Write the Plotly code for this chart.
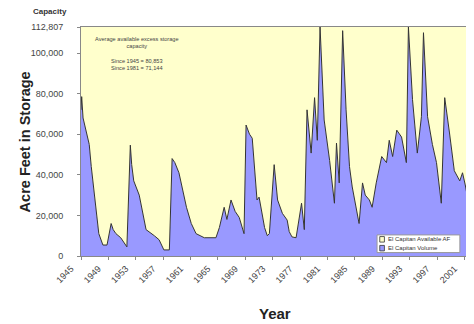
import plotly.graph_objects as go

years = [1945.0, 1945.1, 1945.3, 1945.6, 1945.9, 1946.2, 1946.5, 1946.9, 1947.3, 1947.6, 1948.2,
         1948.8, 1949.4, 1949.7, 1950.1, 1950.8, 1951.7, 1952.2, 1952.4, 1952.7, 1953.5, 1953.9,
         1954.2, 1954.5, 1955.7, 1956.4, 1957.1, 1957.9, 1958.3, 1958.7, 1959.3, 1960.4, 1961.1,
         1961.8, 1963.0, 1964.0, 1964.7, 1965.2, 1965.9, 1966.3, 1966.9, 1967.5, 1968.1,
         1968.8, 1969.1, 1969.6, 1970.0, 1970.7, 1971.0, 1971.5, 1971.8, 1972.2, 1972.5,
         1973.2, 1973.7, 1974.4, 1975.1, 1975.4, 1975.8, 1976.4, 1977.2, 1977.6, 1978.0,
         1978.6, 1979.1, 1979.5, 1979.9, 1980.5, 1981.3, 1982.0, 1982.3, 1982.7, 1983.2,
         1983.7, 1984.2, 1984.6, 1985.6, 1986.1, 1986.5, 1987.1, 1987.5, 1988.1, 1988.9,
         1989.6, 1990.0, 1990.5, 1991.1, 1991.8, 1992.5, 1992.8, 1993.4, 1994.1, 1994.7,
         1995.0, 1995.6, 1996.3, 1996.9, 1997.6, 1998.1, 1998.8, 1999.5, 2000.3, 2000.7,
         2001.1, 2001.5]
volume = [72000, 78500, 68000, 64000, 58600, 55000, 44000, 33000, 21000, 11000, 5400,
          5400, 16000, 13000, 11000, 9000, 4500, 54600, 45000, 37000, 30000, 22700,
          17000, 13000, 10000, 8000, 3000, 3000, 48000, 46000, 41000, 24000, 16000,
          11000, 9000, 8800, 9000, 14000, 24000, 18000, 27600, 22000, 19000,
          11000, 64500, 60000, 58000, 27600, 29000, 19700, 14000, 10000, 11000,
          45000, 27600, 21000, 17700, 12000, 9400, 9000, 26000, 13000, 72000,
          50700, 78000, 57000, 112807, 67000, 47000, 26000, 55600, 36000, 111000,
          72000, 44000, 34000, 16000, 36000, 30000, 27600, 24000, 36000, 49000,
          46000, 57000, 49000, 62000, 58600, 46000, 112807, 77000, 50700, 68600,
          110000, 68600, 55000, 46000, 26000, 78000, 60600, 42000, 37000, 41000,
          35000, 27600]
capacity = 112807
tick_years = list(range(1945, 2002, 4))
y_ticks = [0, 20000, 40000, 60000, 80000, 100000, 112807]
y_tick_text = ["0", "20,000", "40,000", "60,000", "80,000", "100,000", "112,807"]
note_lines = ["Average available excess storage", "capacity", "",
              "Since 1945 = 80,853", "Since 1981 = 71,144"]
legend_names = ["El Capitan Available AF", "El Capitan Volume"]
legend_colors = ["#FFFFCC", "#9999FF"]

fig = go.Figure()
fig.add_trace(go.Scatter(
    x=years, y=volume, mode="lines", name=legend_names[1],
    fill="tozeroy", fillcolor=legend_colors[1],
    line=dict(color="#333333", width=1), showlegend=False,
))
fig.add_trace(go.Scatter(
    x=years, y=[capacity] * len(years), mode="lines", name=legend_names[0],
    fill="tonexty", fillcolor=legend_colors[0],
    line=dict(color="rgba(0,0,0,0)", width=0), showlegend=False,
))

# the page body adds an 8px offset, so the figure is 8px smaller and shifted
fig.update_layout(
    width=466, height=316,
    margin=dict(l=73, r=6, t=19, b=68),
    paper_bgcolor="white", plot_bgcolor="white",
    font=dict(family="Arial, Liberation Sans, sans-serif", size=8, color="#444444"),
    showlegend=False,
    xaxis=dict(
        range=[1945, 2001.5], tickmode="array", tickvals=tick_years,
        ticktext=[str(y) for y in tick_years], tickangle=-45,
        showgrid=False, zeroline=False, showline=True, linecolor="#888888",
        mirror=True, ticks="outside", ticklen=3, tickcolor="#888888",
        tickfont=dict(size=9, color="#444444"), ticklabelshift=-10,
        automargin=False,
    ),
    yaxis=dict(
        range=[0, capacity], tickmode="array", tickvals=y_ticks, ticktext=y_tick_text,
        showgrid=False, zeroline=False, showline=True, linecolor="#888888",
        mirror=True, ticks="outside", ticklen=3, tickcolor="#888888",
        tickfont=dict(size=9, color="#444444"), ticklabelstandoff=12,
        automargin=False,
    ),
)

# axis titles placed at the reference pixel positions
fig.add_annotation(
    x=0.5, y=-0.253, xref="paper", yref="paper", xanchor="center", yanchor="middle",
    text="<b>Year</b>", showarrow=False, font=dict(size=15, color="#222222"),
)
fig.add_annotation(
    x=-0.145, y=0.5, xref="paper", yref="paper", xanchor="center", yanchor="middle",
    text="<b>Acre Feet in Storage</b>", showarrow=False, textangle=-90,
    font=dict(size=14.5, color="#222222"),
)
fig.add_annotation(
    x=-0.03, y=1.0, xref="paper", yref="paper", xanchor="right", yanchor="bottom",
    yshift=9, text="<b>Capacity</b>", showarrow=False,
    font=dict(size=8, color="#333333"),
)
fig.add_annotation(
    x=1953.2, y=109500, xref="x", yref="y", xanchor="center", yanchor="top",
    text="<br>".join(note_lines), showarrow=False, align="center",
    font=dict(size=5.6, color="#444444"),
)

# legend box drawn in paper coordinates
lx0, lx1, ly0, ly1 = 0.765, 0.979, 0.015, 0.092
fig.add_shape(type="rect", xref="paper", yref="paper", x0=lx0, x1=lx1, y0=ly0, y1=ly1,
              fillcolor="white", line=dict(color="#999999", width=1))
for i, (name, col) in enumerate(zip(legend_names, legend_colors)):
    yc = ly1 - (i + 0.5) * (ly1 - ly0) / 2
    fig.add_shape(type="rect", xref="paper", yref="paper",
                  x0=lx0 + 0.007, x1=lx0 + 0.019, y0=yc - 0.012, y1=yc + 0.012,
                  fillcolor=col, line=dict(color="#333333", width=0.8))
    fig.add_annotation(x=lx0 + 0.024, y=yc, xref="paper", yref="paper",
                       xanchor="left", yanchor="middle", text=name, showarrow=False,
                       font=dict(size=6, color="#333333"))

fig.write_html("out.html")
